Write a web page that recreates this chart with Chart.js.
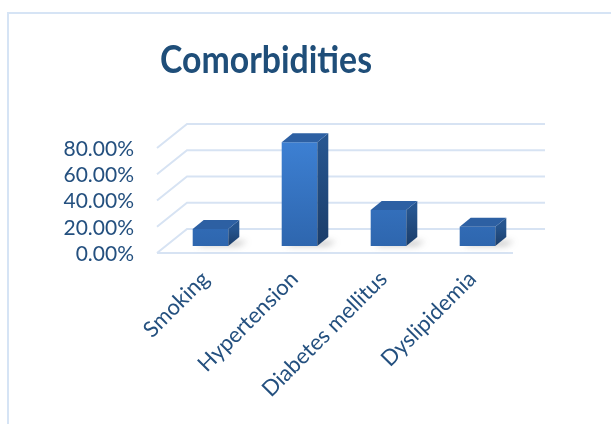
<!DOCTYPE html>
<html>
<head>
<meta charset="utf-8">
<script src="https://cdn.jsdelivr.net/npm/chart.js@4.4.1/dist/chart.umd.min.js"></script>
<style>
  body { margin: 0; background: #fff; }
  #wrap { width: 611px; height: 424px; }
</style>
</head>
<body>
<div id="wrap"><canvas id="myChart" width="611" height="424"></canvas></div>
<script>
  // data
  const categories = ['Smoking', 'Hypertension', 'Diabetes mellitus', 'Dyslipidemia'];
  const values = [0.13, 0.79, 0.274, 0.147];
  const yTicks = [0, 0.2, 0.4, 0.6, 0.8];
  const chartTitle = 'Comorbidities';

  const textColor = '#24507f';
  const gridColor = '#d7e3f3';

  // 3D offsets relative to the bar front plane
  const frontOff = { dx: -9, dy: 7 };
  const backOff = { dx: 21, dy: -17 };
  const depth = { dx: 11, dy: -9 };

  const fake3d = {
    id: 'fake3d',
    beforeDraw(chart) {
      const c = chart.ctx;
      // outer frame (clipped at right and bottom)
      c.save();
      c.strokeStyle = '#d6e4f5';
      c.lineWidth = 2;
      c.beginPath();
      c.moveTo(8, 430);
      c.lineTo(8, 13);
      c.lineTo(620, 13);
      c.stroke();
      // title, squeezed a little to get Calibri-like proportions
      c.fillStyle = '#1f4e79';
      c.font = 'bold 38px Lato';
      c.textAlign = 'center';
      c.textBaseline = 'alphabetic';
      c.translate(266, 73);
      c.scale(0.89, 1);
      c.fillText(chartTitle, 0, 0);
      c.restore();
    },
    beforeDatasetsDraw(chart) {
      const c = chart.ctx;
      const area = chart.chartArea;
      const y = chart.scales.y;
      c.save();
      c.strokeStyle = gridColor;
      c.lineWidth = 2;
      yTicks.forEach(v => {
        const p = y.getPixelForValue(v);
        c.beginPath();
        c.moveTo(area.left + frontOff.dx, p + frontOff.dy);
        c.lineTo(area.left + backOff.dx, p + backOff.dy);
        c.lineTo(area.right + backOff.dx + 2, p + backOff.dy);
        c.stroke();
      });
      const p0 = y.getPixelForValue(0);
      c.beginPath();
      c.moveTo(area.left + frontOff.dx, p0 + frontOff.dy);
      c.lineTo(area.right + frontOff.dx, p0 + frontOff.dy);
      c.stroke();
      // soft shadows at the bar bases
      const meta = chart.getDatasetMeta(0);
      c.filter = 'blur(3px)';
      c.fillStyle = 'rgba(90,90,90,0.35)';
      meta.data.forEach(b => {
        const l = b.x - b.width / 2, r = b.x + b.width / 2;
        c.beginPath();
        c.moveTo(l + 4, b.base);
        c.lineTo(r + 10, b.base);
        c.lineTo(r + depth.dx + 8, b.base + depth.dy + 4);
        c.lineTo(l + depth.dx, b.base + depth.dy + 4);
        c.closePath();
        c.fill();
      });
      c.restore();
    },
    afterDatasetsDraw(chart) {
      const c = chart.ctx;
      const meta = chart.getDatasetMeta(0);
      c.save();
      meta.data.forEach(b => {
        const l = b.x - b.width / 2, r = b.x + b.width / 2;
        // side face
        const g = c.createLinearGradient(0, b.y, 0, b.base);
        g.addColorStop(0, '#26558f');
        g.addColorStop(1, '#1b3d69');
        c.fillStyle = g;
        c.beginPath();
        c.moveTo(r, b.y);
        c.lineTo(r + depth.dx, b.y + depth.dy);
        c.lineTo(r + depth.dx, b.base + depth.dy);
        c.lineTo(r, b.base);
        c.closePath();
        c.fill();
        // top face
        c.fillStyle = '#2d60a3';
        c.beginPath();
        c.moveTo(l, b.y);
        c.lineTo(l + depth.dx, b.y + depth.dy);
        c.lineTo(r + depth.dx, b.y + depth.dy);
        c.lineTo(r, b.y);
        c.closePath();
        c.fill();
      });
      c.restore();
    }
  };

  const ctx = document.getElementById('myChart').getContext('2d');

  const myChart = new Chart(ctx, {
    type: 'bar',
    data: {
      labels: categories,
      datasets: [{
        label: chartTitle,
        data: values,
        backgroundColor: function (context) {
          const area = context.chart.chartArea;
          if (!area) return '#3370bf';
          const g = context.chart.ctx.createLinearGradient(0, area.top, 0, area.bottom);
          g.addColorStop(0, '#3d80d3');
          g.addColorStop(1, '#2e66ae');
          return g;
        },
        borderWidth: 0,
        barPercentage: 0.4,
        categoryPercentage: 1
      }]
    },
    options: {
      responsive: false,
      animation: false,
      layout: { padding: { left: 0, right: 89, top: 141, bottom: 0 } },
      plugins: {
        legend: { display: false },
        title: { display: false },
        tooltip: { enabled: false }
      },
      scales: {
        x: {
          grid: { display: false },
          border: { display: false },
          ticks: {
            color: textColor,
            font: { family: 'Lato', size: 22 },
            minRotation: 45,
            maxRotation: 45,
            padding: 12,
            labelOffset: -5
          },
          afterFit(scale) { scale.height = 178; }
        },
        y: {
          min: 0,
          max: 0.8,
          grid: { display: false },
          border: { display: false },
          ticks: {
            stepSize: 0.2,
            autoSkip: false,
            color: textColor,
            font: { family: 'Lato', size: 21 },
            padding: 24,
            labelOffset: 8,
            callback: v => (v * 100).toFixed(2) + '%'
          },
          afterFit(scale) { scale.width = 166; }
        }
      }
    },
    plugins: [fake3d]
  });
</script>
</body>
</html>
